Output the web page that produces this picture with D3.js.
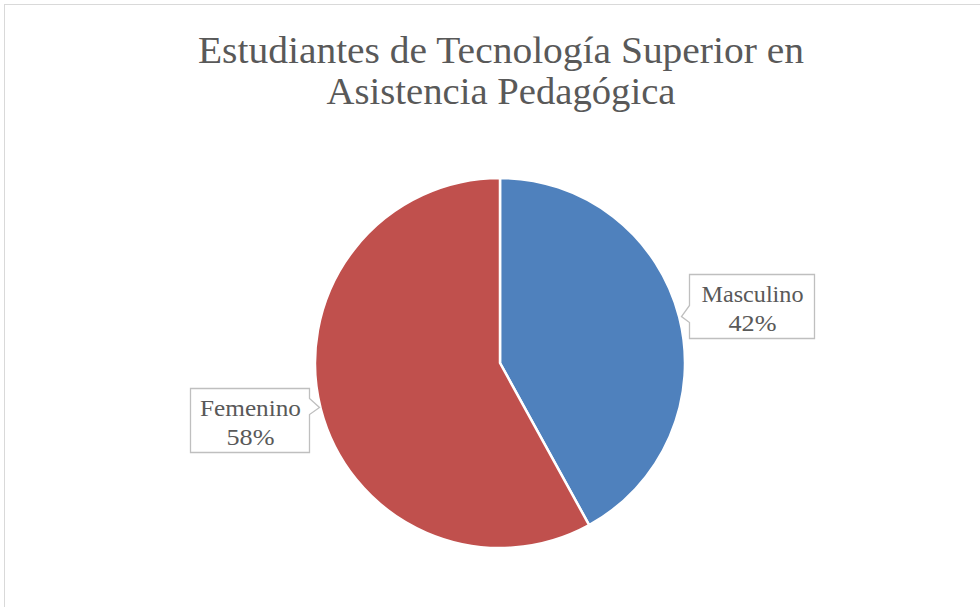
<!DOCTYPE html>
<html><head><meta charset="utf-8">
<script src="https://cdn.jsdelivr.net/npm/d3@7"></script>
<style>body{margin:0;background:#fff}svg{display:block}</style>
</head><body>
<svg id="c" width="980" height="607"></svg>
<script>
const categories = ["Masculino", "Femenino"];
const values = [42, 58];
const colors = ["#4F81BD", "#C0504D"];
const titleLines = ["Estudiantes de Tecnología Superior en", "Asistencia Pedagógica"];

const svg = d3.select("#c");
const font = "'Liberation Serif', 'DejaVu Serif', serif";

svg.append("rect").attr("x", 4.5).attr("y", 4.5).attr("width", 1000).attr("height", 700)
  .attr("fill", "#fff").attr("stroke", "#d9d9d9").attr("stroke-width", 1);

const titleWidths = [606, 349];
svg.append("g").selectAll("text").data(titleLines).join("text")
  .attr("x", 501).attr("y", (d, i) => 63 + i * 41)
  .attr("text-anchor", "middle").attr("font-family", font).attr("font-size", 38)
  .attr("textLength", (d, i) => titleWidths[i]).attr("lengthAdjust", "spacingAndGlyphs")
  .attr("fill", "#595959").text(d => d);

const cx = 500, cy = 363, r = 185;
const pie = d3.pie().sort(null).value(d => d.v);
const arcs = pie(categories.map((c, i) => ({c, v: values[i], col: colors[i]})));
const arc = d3.arc().innerRadius(0).outerRadius(r);
const g = svg.append("g").attr("transform", `translate(${cx},${cy})`);
g.selectAll("path").data(arcs).join("path")
  .attr("d", arc).attr("fill", d => d.data.col)
  .attr("stroke", "#fff").attr("stroke-width", 2.5).attr("stroke-linejoin", "round");

// callout layout (box geometry)
const boxes = [
  {x: 689, y: 274, w: 125, h: 64, side: "left", py0: 305, py1: 322, tipx: 681, tipy: 316, tw: [102, 48]},
  {x: 190, y: 388, w: 119, h: 64, side: "right", py0: 398, py1: 414, tipx: 319, tipy: 407, tw: [101, 48]}
];
const total = d3.sum(values);
boxes.forEach((b, i) => {
  let p;
  if (b.side === "left") {
    p = `M${b.x},${b.y} H${b.x + b.w} V${b.y + b.h} H${b.x} V${b.py1} L${b.tipx},${b.tipy} L${b.x},${b.py0} Z`;
  } else {
    p = `M${b.x},${b.y} H${b.x + b.w} V${b.py0} L${b.tipx},${b.tipy} L${b.x + b.w},${b.py1} V${b.y + b.h} H${b.x} Z`;
  }
  svg.append("path").attr("d", p).attr("fill", "#fff").attr("stroke", "#bfbfbf").attr("stroke-width", 1.3)
    .attr("transform", "translate(0.5,0.5)");
  const lines = [categories[i], Math.round(values[i] / total * 100) + "%"];
  lines.forEach((s, k) => {
    svg.append("text").attr("text-anchor", "middle").attr("font-family", font)
      .attr("font-size", 23.5).attr("fill", "#595959")
      .attr("x", b.x + b.w / 2 + 1).attr("y", b.y + 28 + k * 29)
      .attr("textLength", b.tw[k]).attr("lengthAdjust", "spacingAndGlyphs")
      .text(s);
  });
});
</script>
</body></html>
